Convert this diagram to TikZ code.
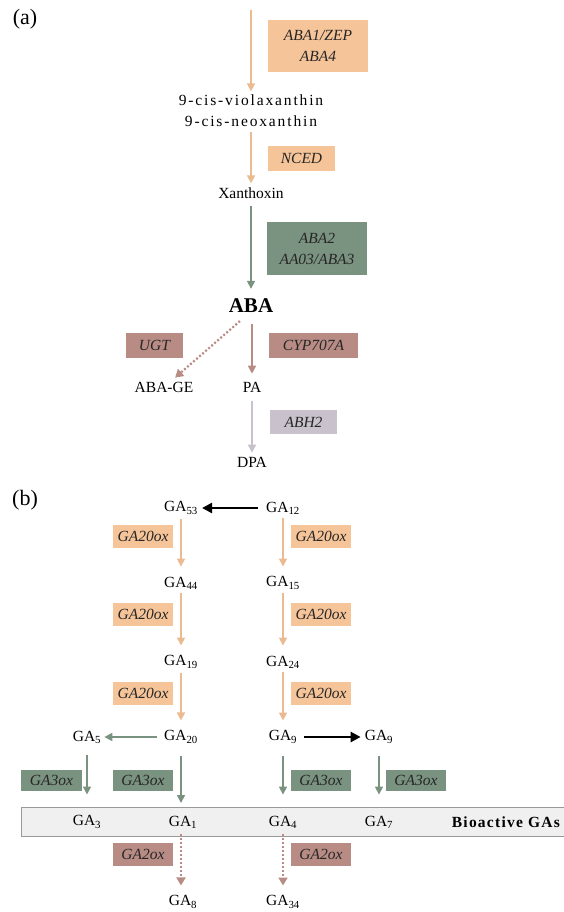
\documentclass[tikz,border=0pt]{standalone}
\usepackage{fontspec}
\setmainfont{Liberation Serif}
\usetikzlibrary{arrows.meta}
\definecolor{abaorange}{RGB}{246,196,153}
\definecolor{abagreen}{RGB}{122,146,128}
\definecolor{abarose}{RGB}{184,140,133}
\definecolor{abalilac}{RGB}{201,194,204}
\definecolor{bargrey}{RGB}{240,240,240}
\begin{document}
\begin{tikzpicture}
 [
 x=1pt, y=-1pt,
 every node/.style={font=\fontsize{15.5}{20}\selectfont, inner sep=2pt},
 compound/.style={rectangle},
 partlabel/.style={font=\fontsize{22}{24}\selectfont},
 enzyme/.style={rectangle, inner sep=0pt, align=center, text=black!85, font=\fontsize{15.5}{21}\selectfont\itshape},
 orangebox/.style={enzyme, fill=abaorange},
 greenbox/.style={enzyme, fill=abagreen},
 rosebox/.style={enzyme, fill=abarose},
 lilacbox/.style={enzyme, fill=abalilac},
 orangearrow/.style={draw=abaorange!95!black, line width=1.6pt, -{Triangle[length=8pt,width=8pt]}},
 greenarrow/.style={draw=abagreen, line width=1.6pt, -{Triangle[length=8pt,width=8pt]}},
 rosearrow/.style={draw=abarose, line width=1.6pt, -{Triangle[length=8pt,width=8pt]}},
 lilacarrow/.style={draw=abalilac, line width=1.6pt, -{Triangle[length=8pt,width=8pt]}},
 dottedarrow/.style={draw=abarose, line width=2.2pt, dash pattern=on 2pt off 2pt, -{Triangle[length=8pt,width=9pt]}},
 blackarrow/.style={draw=black, line width=2.4pt, -{Triangle[length=10pt,width=10pt]}}
 ]
 \useasboundingbox (0,0) rectangle (564,912);
 % (a) ABA pathway
 \node at (25,19) [partlabel] (la) {(a)};
 \coordinate (start) at (251,10);
 \node at (251,100) [compound] (viola) {\addfontfeature{LetterSpace=12}9-cis-violaxanthin};
 \node at (251,121) [compound] (neo) {\addfontfeature{LetterSpace=12}9-cis-neoxanthin};
 \node at (251,193) [compound] (xan) {Xanthoxin};
 \node at (251,306) [compound, font=\fontsize{21}{24}\selectfont\bfseries] (aba) {ABA};
 \node at (164,387) [compound] (abage) {ABA-GE};
 \node at (252,387) [compound] (pa) {PA};
 \node at (252,462) [compound] (dpa) {DPA};
 \node at (318,46) [orangebox, minimum width=100, minimum height=52] (zep) {ABA1/ZEP\\ABA4};
 \node at (301.5,158.5) [orangebox, minimum width=67, minimum height=25] (nced) {NCED};
 \node at (317,248.5) [greenbox, minimum width=100, minimum height=53] (aba2) {ABA2\\AA03/ABA3};
 \node at (154.5,345.5) [rosebox, minimum width=57, minimum height=25] (ugt) {UGT};
 \node at (313.5,345.5) [rosebox, minimum width=89, minimum height=25] (cyp) {CYP707A};
 \node at (303.5,422) [lilacbox, minimum width=67, minimum height=24] (abh) {ABH2};
 \draw [orangearrow, shorten >=1pt] (start) -- (viola);
 \draw [orangearrow, shorten <=3pt, shorten >=2pt] (neo) -- (xan);
 \draw [greenarrow, shorten <=5pt, shorten >=8pt] (xan) -- (aba);
 \draw [dottedarrow, shorten <=9pt, shorten >=3pt] (aba.245) -- (abage.40);
 \draw [rosearrow, shorten <=9pt, shorten >=6pt] (aba.south -| pa) -- (pa);
 \draw [lilacarrow, shorten <=7pt, shorten >=2pt] (pa) -- (dpa);
 % (b) GA pathway
 \node at (25,500) [partlabel] (lb) {(b)};
 \draw [draw=black!40, fill=bargrey, line width=0.8pt] (21,807) rectangle (568,836);
 \node at (181,508) [compound] (ga53) {GA\textsubscript{53}};
 \node at (283,508) [compound] (ga12) {GA\textsubscript{12}};
 \node at (181,583) [compound] (ga44) {GA\textsubscript{44}};
 \node at (283,583) [compound] (ga15) {GA\textsubscript{15}};
 \node at (181,662) [compound] (ga19) {GA\textsubscript{19}};
 \node at (283,662) [compound] (ga24) {GA\textsubscript{24}};
 \node at (87,737) [compound] (ga5) {GA\textsubscript{5}};
 \node at (181,737) [compound] (ga20) {GA\textsubscript{20}};
 \node at (283,737) [compound] (ga9) {GA\textsubscript{9}};
 \node at (379,737) [compound] (ga9b) {GA\textsubscript{9}};
 \node at (87,822) [compound] (ga3) {GA\textsubscript{3}};
 \node at (183,822) [compound] (ga1) {GA\textsubscript{1}};
 \node at (283,822) [compound] (ga4) {GA\textsubscript{4}};
 \node at (379,822) [compound] (ga7) {GA\textsubscript{7}};
 \node at (562,822) [compound, anchor=east, font=\fontsize{15.5}{20}\selectfont\bfseries\addfontfeature{LetterSpace=8}] (bio) {Bioactive GAs};
 \node at (183,902) [compound] (ga8) {GA\textsubscript{8}};
 \node at (283,902) [compound] (ga34) {GA\textsubscript{34}};
 \node at (143,536.5) [orangebox, minimum width=60, minimum height=23] (ox1) {GA20ox};
 \node at (321,536.5) [orangebox, minimum width=60, minimum height=23] (ox2) {GA20ox};
 \node at (143,614.5) [orangebox, minimum width=60, minimum height=23] (ox3) {GA20ox};
 \node at (321,614.5) [orangebox, minimum width=60, minimum height=23] (ox4) {GA20ox};
 \node at (143,693.5) [orangebox, minimum width=60, minimum height=23] (ox5) {GA20ox};
 \node at (321,693.5) [orangebox, minimum width=60, minimum height=23] (ox6) {GA20ox};
 \node at (51.5,780) [greenbox, minimum width=61, minimum height=21] (gox1) {GA3ox};
 \node at (143,780) [greenbox, minimum width=60, minimum height=21] (gox2) {GA3ox};
 \node at (321,780) [greenbox, minimum width=60, minimum height=21] (gox3) {GA3ox};
 \node at (416,780) [greenbox, minimum width=60, minimum height=21] (gox4) {GA3ox};
 \node at (143,854.5) [rosebox, minimum width=60, minimum height=23] (rox1) {GA2ox};
 \node at (321,854.5) [rosebox, minimum width=60, minimum height=23] (rox2) {GA2ox};
 \draw [blackarrow, shorten <=6pt, shorten >=2pt] (ga12.west) -- (ga53.east);
 \draw [orangearrow, shorten <=2pt, shorten >=8pt] (ga53) -- (ga44);
 \draw [orangearrow, shorten <=2pt, shorten >=8pt] (ga12) -- (ga15);
 \draw [orangearrow, shorten <=2pt, shorten >=8pt] (ga44) -- (ga19);
 \draw [orangearrow, shorten <=2pt, shorten >=8pt] (ga15) -- (ga24);
 \draw [orangearrow, shorten <=2pt, shorten >=8pt] (ga19) -- (ga20);
 \draw [orangearrow, shorten <=2pt, shorten >=8pt] (ga24) -- (ga9);
 \draw [greenarrow, shorten <=5pt, shorten >=1pt] (ga20.west) -- (ga5.east);
 \draw [blackarrow, shorten <=5pt, shorten >=2pt] (ga9.east) -- (ga9b.west);
 \draw [greenarrow, shorten <=10pt, shorten >=19pt] (ga5) -- (ga3);
 \draw [greenarrow, shorten <=10pt, shorten >=19pt] (ga20) -- (ga20 |- ga1);
 \draw [greenarrow, shorten <=10pt, shorten >=19pt] (ga9) -- (ga4);
 \draw [greenarrow, shorten <=10pt, shorten >=19pt] (ga9b) -- (ga7);
 \draw [dottedarrow, shorten <=4pt, shorten >=8pt] (ga20 |- ga1.south) -- (ga20 |- ga8.north);
 \draw [dottedarrow, shorten <=4pt, shorten >=8pt] (ga4) -- (ga34);
\end{tikzpicture}
\end{document}
